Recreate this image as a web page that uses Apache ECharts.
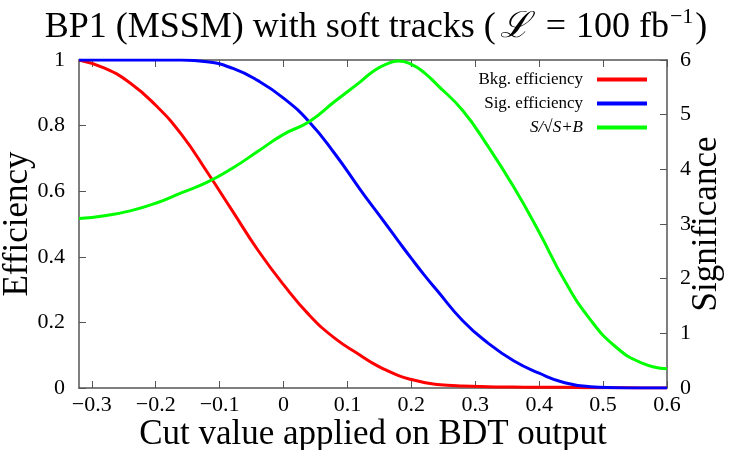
<!DOCTYPE html>
<html>
<head>
<meta charset="utf-8">
<script src="https://cdn.jsdelivr.net/npm/echarts@6/dist/echarts.min.js"></script>
<style>
  html, body { margin: 0; padding: 0; background: #fff; }
  #chart { width: 750px; height: 450px; }
</style>
</head>
<body>
<div id="chart"></div>
<script>
// cut values on the BDT output
const cutValues = [-0.32, -0.28, -0.24, -0.2, -0.16, -0.12, -0.08, -0.04, 0, 0.04, 0.08, 0.12,
    0.14, 0.16, 0.18, 0.2, 0.22, 0.24, 0.28, 0.32, 0.36, 0.4, 0.44, 0.48, 0.52, 0.56, 0.6];
// background efficiency (left axis)
const bkgEff = [1.0, 0.975, 0.93, 0.862, 0.774, 0.66, 0.54, 0.42, 0.315, 0.223, 0.152, 0.10,
    0.075, 0.055, 0.038, 0.026, 0.017, 0.011, 0.006, 0.004, 0.003, 0.002, 0.002, 0.001, 0.001, 0.0, 0.0];
// signal efficiency (left axis)
const sigEff = [1.0, 1.0, 1.0, 1.0, 1.0, 0.995, 0.975, 0.937, 0.884, 0.812, 0.715, 0.605,
    0.552, 0.5, 0.447, 0.395, 0.345, 0.298, 0.206, 0.137, 0.083, 0.045, 0.016, 0.004, 0.001, 0.0, 0.0];
// S/sqrt(S+B) (right axis)
const significance = [3.10, 3.15, 3.24, 3.38, 3.57, 3.76, 4.02, 4.33, 4.64, 4.87, 5.24, 5.60,
    5.79, 5.92, 5.98, 5.92, 5.77, 5.55, 5.08, 4.42, 3.68, 2.85, 1.96, 1.25, 0.75, 0.46, 0.35];
const xTicks = [-0.3, -0.2, -0.1, 0, 0.1, 0.2, 0.3, 0.4, 0.5, 0.6];

const serif = '"Liberation Serif", "Times New Roman", serif';
const axisGray = '#555';

let pairs = function(ys){
    return cutValues.map(function(x, i){ return [x, ys[i]]; });
};
let minus = function(v){
    return v < 0 ? '\u2212' + Math.abs(v) : String(v);
};

const chart = echarts.init(document.getElementById('chart'), null, {renderer: 'canvas'});
const option = {
    animation: false,
    backgroundColor: '#fff',
    title: {
        text: '{a|BP1 (MSSM) with soft tracks (}{l|\u2112}{a|=}{b|100 fb}{s|\u22121}{p|)}',
        left: 371,
        textAlign: 'center',
        top: 1,
        textStyle: {
            rich: {
                a: {fontFamily: serif, fontSize: 36, fontWeight: 'normal', color: '#000', lineHeight: 43},
                b: {fontFamily: serif, fontSize: 36, fontWeight: 'normal', color: '#000', lineHeight: 43, padding: [0, 0, 0, 10]},
                l: {fontFamily: serif, fontSize: 36, fontWeight: 'normal', fontStyle: 'italic', color: '#000', lineHeight: 43, padding: [0, 16, 0, 4]},
                s: {fontFamily: serif, fontSize: 22, fontWeight: 'normal', color: '#000', verticalAlign: 'top', lineHeight: 35, padding: [0, 2, 0, 1]},
                p: {fontFamily: serif, fontSize: 36, fontWeight: 'normal', color: '#000', lineHeight: 43}
            }
        }
    },
    legend: {
        orient: 'vertical',
        right: 98,
        top: 66,
        align: 'right',
        itemWidth: 50,
        itemHeight: 4,
        itemGap: 7,
        icon: 'rect',
        textStyle: {fontFamily: serif, fontSize: 17, color: '#000', width: 160, align: 'right', padding: [0, 9, 0, 0],
            rich: {it: {fontFamily: serif, fontSize: 17, fontStyle: 'italic', color: '#000'}}},
        formatter: function(name){
            if (name.indexOf('S/') === 0) return '{it|' + name + '}';
            return name;
        },
        data: ['Bkg. efficiency', 'Sig. efficiency', 'S/\u221AS+B']
    },
    grid: {left: 79, right: 83, top: 60, bottom: 62, outerBoundsMode: 'none', containLabel: false},
    xAxis: [
        {
            type: 'value',
            min: -0.32,
            max: 0.6,
            name: 'Cut value applied on BDT output',
            nameLocation: 'middle',
            nameGap: 29,
            nameMoveOverlap: false,
            nameTextStyle: {fontFamily: serif, fontSize: 35, color: '#000'},
            axisLine: {show: true, onZero: false, lineStyle: {color: axisGray, width: 1.5}},
            axisTick: {show: true, inside: true, length: 7, customValues: xTicks, lineStyle: {color: axisGray}},
            axisLabel: {customValues: xTicks, formatter: minus, fontFamily: serif, fontSize: 22, color: '#000', margin: 6},
            splitLine: {show: false}
        },
        {
            type: 'value',
            position: 'top',
            min: -0.32,
            max: 0.6,
            axisLine: {show: true, onZero: false, lineStyle: {color: axisGray, width: 1.5}},
            axisTick: {show: true, inside: true, length: 7, customValues: xTicks, lineStyle: {color: axisGray}},
            axisLabel: {show: false},
            splitLine: {show: false}
        }
    ],
    yAxis: [
        {
            type: 'value',
            min: 0,
            max: 1,
            interval: 0.2,
            name: 'Efficiency',
            nameLocation: 'middle',
            nameRotate: 90,
            nameGap: 44,
            nameMoveOverlap: false,
            nameTextStyle: {fontFamily: serif, fontSize: 35, color: '#000'},
            axisLine: {show: true, onZero: false, lineStyle: {color: axisGray, width: 1.5}},
            axisTick: {show: true, inside: true, length: 7, lineStyle: {color: axisGray}},
            axisLabel: {fontFamily: serif, fontSize: 22, color: '#000', margin: 14},
            splitLine: {show: false}
        },
        {
            type: 'value',
            position: 'right',
            min: 0,
            max: 6,
            interval: 1,
            name: 'Significance',
            nameLocation: 'middle',
            nameRotate: 90,
            nameGap: 22,
            nameMoveOverlap: false,
            nameTextStyle: {fontFamily: serif, fontSize: 35, color: '#000'},
            axisLine: {show: true, onZero: false, lineStyle: {color: axisGray, width: 1.5}},
            axisTick: {show: true, inside: true, length: 7, lineStyle: {color: axisGray}},
            axisLabel: {fontFamily: serif, fontSize: 22, color: '#000', margin: 13},
            splitLine: {show: false}
        }
    ],
    series: [
        {
            name: 'Bkg. efficiency',
            type: 'line',
            yAxisIndex: 0,
            smooth: 0.5,
            showSymbol: false,
            color: '#ff0000',
            lineStyle: {width: 3, color: '#ff0000'},
            data: pairs(bkgEff)
        },
        {
            name: 'Sig. efficiency',
            type: 'line',
            yAxisIndex: 0,
            smooth: 0.5,
            showSymbol: false,
            color: '#0000ff',
            lineStyle: {width: 3, color: '#0000ff'},
            data: pairs(sigEff)
        },
        {
            name: 'S/\u221AS+B',
            type: 'line',
            yAxisIndex: 1,
            smooth: 0.5,
            showSymbol: false,
            color: '#00ff00',
            lineStyle: {width: 3, color: '#00ff00'},
            data: pairs(significance)
        }
    ]
};
chart.setOption(option);
</script>
</body>
</html>
